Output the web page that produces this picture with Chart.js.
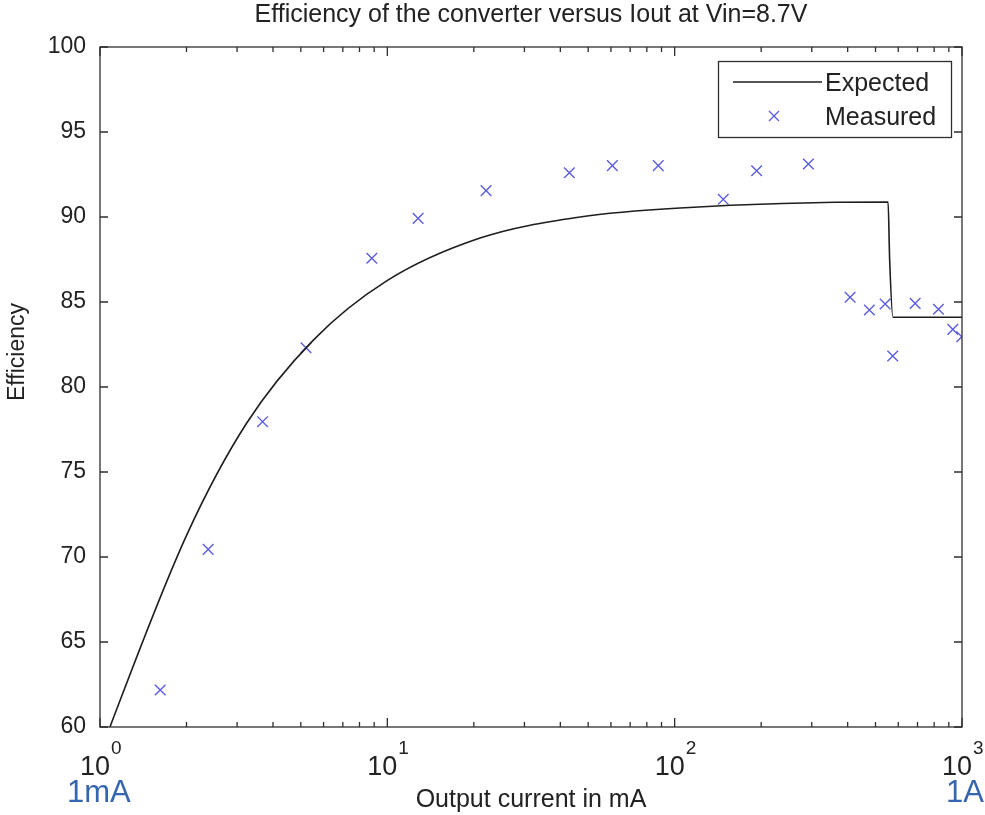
<!DOCTYPE html>
<html><head><meta charset="utf-8">
<script src="https://cdn.jsdelivr.net/npm/chart.js@4.4.0/dist/chart.umd.min.js"></script>
<style>html,body{margin:0;padding:0;background:#fff;}#wrap{width:985px;height:815px;}</style>
</head><body><div id="wrap"><canvas id="c" width="985" height="815"></canvas></div>
<script>
const titleText = 'Efficiency of the converter versus Iout at Vin=8.7V';
const xAxisTitle = 'Output current in mA';
const yAxisTitle = 'Efficiency';
const seriesNames = ['Expected', 'Measured'];
const expectedCurrent = [1, 1.083, 2.003, 3.241, 5.527, 9.95, 21.02, 46.86, 104.4, 553, 560, 575, 1000];
const expectedEff = [58.4, 60.0, 71.29, 77.88, 82.76, 86.24, 88.76, 90.0, 90.53, 90.88, 87.5, 84.1, 84.1];
const measuredCurrent = [1.62, 2.38, 3.68, 5.21, 8.83, 12.8, 22.06, 43.0, 60.7, 87.7, 147.6, 192.9, 292, 408, 476, 540, 574, 687, 828, 929, 998];
const measuredEff = [62.18, 70.45, 77.96, 82.31, 87.57, 89.92, 91.55, 92.6, 93.02, 93.02, 91.04, 92.72, 93.12, 85.28, 84.53, 84.88, 81.82, 84.92, 84.57, 83.39, 82.96];
const yTickValues = [60, 65, 70, 75, 80, 85, 90, 95, 100];
const xDecades = [1, 10, 100, 1000];
const xDecadeLabels = [['10', '0'], ['10', '1'], ['10', '2'], ['10', '3']];
const endLabels = ['1mA', '1A'];

const FAM = "'Liberation Sans', Arial, Helvetica, sans-serif";
const TXT = '#222222';
const AXC = '#2e2e2e';
const MEAS = '#5c5ce0';

const matlabFrame = {
  id: 'matlabFrame',
  afterDraw(chart) {
    const {ctx, chartArea: a, scales: {x, y}} = chart;
    ctx.save();
    ctx.strokeStyle = AXC;
    ctx.lineWidth = 1.3;
    ctx.strokeRect(a.left, a.top, a.right - a.left, a.bottom - a.top);
    ctx.beginPath();
    yTickValues.forEach(v => {
      const py = y.getPixelForValue(v);
      ctx.moveTo(a.left, py); ctx.lineTo(a.left + 8, py);
      ctx.moveTo(a.right, py); ctx.lineTo(a.right - 8, py);
    });
    xDecades.forEach(d => {
      for (let m = 1; m <= 9; m++) {
        const v = d * m;
        if (v > xDecades[xDecades.length - 1]) break;
        const px = x.getPixelForValue(v);
        const len = m === 1 ? 9 : 5;
        ctx.moveTo(px, a.bottom); ctx.lineTo(px, a.bottom - len);
        ctx.moveTo(px, a.top); ctx.lineTo(px, a.top + len);
      }
    });
    ctx.stroke();

    // x decade labels 10^n
    ctx.fillStyle = TXT;
    ctx.textBaseline = 'alphabetic';
    xDecades.forEach((d, i) => {
      const px = x.getPixelForValue(d);
      ctx.font = '27px ' + FAM;
      ctx.textAlign = 'center';
      ctx.fillText(xDecadeLabels[i][0], px - 5, a.bottom + 48);
      ctx.font = '19px ' + FAM;
      ctx.textAlign = 'left';
      ctx.fillText(xDecadeLabels[i][1], px + 11, a.bottom + 27);
    });

    // 1mA / 1A
    ctx.fillStyle = '#3766b1';
    ctx.font = '31px ' + FAM;
    ctx.textAlign = 'left';
    ctx.fillText(endLabels[0], 67, a.bottom + 75);
    ctx.textAlign = 'right';
    ctx.fillText(endLabels[1], 984, a.bottom + 75);

    // y axis title
    ctx.fillStyle = TXT;
    ctx.font = '23px ' + FAM;
    ctx.save();
    ctx.translate(18, 352);
    ctx.rotate(-Math.PI / 2);
    ctx.textAlign = 'center';
    ctx.textBaseline = 'middle';
    ctx.fillText(yAxisTitle, 0, 0);
    ctx.restore();

    // legend
    const lx = 718.5, ly = 61.5, lw = 233, lh = 76;
    ctx.fillStyle = '#ffffff';
    ctx.fillRect(lx, ly, lw, lh);
    ctx.strokeStyle = AXC;
    ctx.lineWidth = 1.3;
    ctx.strokeRect(lx, ly, lw, lh);
    ctx.strokeStyle = '#1e1e1e';
    ctx.lineWidth = 1.6;
    ctx.beginPath();
    ctx.moveTo(733, 82); ctx.lineTo(822, 82);
    ctx.stroke();
    ctx.strokeStyle = MEAS;
    ctx.lineWidth = 1.4;
    ctx.beginPath();
    ctx.moveTo(769, 111); ctx.lineTo(779, 121);
    ctx.moveTo(779, 111); ctx.lineTo(769, 121);
    ctx.stroke();
    ctx.fillStyle = TXT;
    ctx.font = '25px ' + FAM;
    ctx.textAlign = 'left';
    ctx.textBaseline = 'alphabetic';
    ctx.fillText(seriesNames[0], 825, 91);
    ctx.fillText(seriesNames[1], 825, 125);
    ctx.restore();
  }
};

new Chart(document.getElementById('c'), {
  type: 'scatter',
  data: {
    datasets: [
      {
        type: 'line', label: seriesNames[0],
        data: expectedCurrent.map((v, i) => ({x: v, y: expectedEff[i]})),
        borderColor: '#1e1e1e', borderWidth: 1.6, pointRadius: 0, fill: false,
        cubicInterpolationMode: 'monotone'
      },
      {
        type: 'scatter', label: seriesNames[1],
        data: measuredCurrent.map((v, i) => ({x: v, y: measuredEff[i]})),
        pointStyle: 'crossRot', pointRadius: 7.5, borderColor: MEAS, backgroundColor: MEAS, borderWidth: 1.4
      }
    ]
  },
  options: {
    responsive: false, animation: false, devicePixelRatio: 1,
    layout: {padding: {left: 0, right: 23, top: 0, bottom: 0}},
    plugins: {
      legend: {display: false},
      tooltip: {enabled: false},
      title: {
        display: true, text: titleText, fullSize: false, color: TXT,
        font: {family: FAM, size: 25, weight: 'normal'},
        padding: {top: 0, bottom: 17}
      }
    },
    scales: {
      x: {
        type: 'logarithmic', min: 1, max: 1000,
        grid: {display: false}, border: {display: false},
        ticks: {display: false},
        title: {display: true, text: xAxisTitle, color: TXT, font: {family: FAM, size: 25}, padding: {top: 0, bottom: 0}},
        afterFit(s) { s.height = 88; }
      },
      y: {
        min: 60, max: 100,
        ticks: {stepSize: 5, color: TXT, font: {family: FAM, size: 23}, padding: 14},
        grid: {display: false, drawTicks: false}, border: {display: false},
        afterFit(s) { s.width = 100; }
      }
    }
  },
  plugins: [matlabFrame]
});
</script>
</body></html>
